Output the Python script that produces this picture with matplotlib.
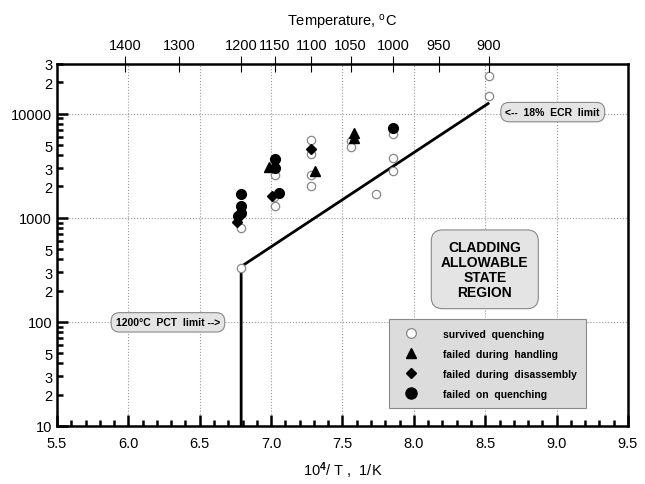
import numpy as np
import matplotlib
matplotlib.use("Agg")
import matplotlib.pyplot as plt
from matplotlib.lines import Line2D
from matplotlib.ticker import FixedLocator, MultipleLocator

plt.rcParams['font.family'] = ['Liberation Sans', 'DejaVu Sans']
plt.rcParams['mathtext.fontset'] = 'custom'
plt.rcParams['mathtext.rm'] = 'Liberation Sans'
plt.rcParams['mathtext.it'] = 'Liberation Sans:italic'
plt.rcParams['mathtext.bf'] = 'Liberation Sans:bold'

# data (x = 10^4/T, y = time)
survived_x = [6.786, 6.79, 7.027, 7.02, 7.027, 7.279, 7.279, 7.279, 7.279,
              7.557, 7.557, 7.851, 7.851, 7.851, 7.732, 8.525, 8.525]
survived_y = [804, 330, 2550, 1580, 1295, 5560, 4140, 2590, 2010,
              5520, 4810, 6400, 3770, 2840, 1675, 22860, 14700]

handling_x = [6.985, 7.307, 7.58, 7.58]
handling_y = [3090, 2800, 6550, 5860]

disassembly_x = [6.758, 7.003, 7.279]
disassembly_y = [910, 1615, 4530]

quench_x = [6.786, 6.786, 6.79, 6.77, 7.027, 7.027, 7.055, 7.851]
quench_y = [1675, 1295, 1100, 1040, 3630, 2980, 1740, 7310]

limit_x = [6.79, 6.79, 8.52]
limit_y = [10, 340, 12500]

temps_c = [1400, 1300, 1200, 1150, 1100, 1050, 1000, 950, 900]

fig = plt.figure(figsize=(6.45, 4.85), dpi=100)
ax = fig.add_axes([0.0884, 0.1196, 0.8852, 0.7464])

ax.set_yscale('log')
ax.set_xlim(5.5, 9.5)
ax.set_ylim(10, 30000)

ax.grid(True, which='major', linestyle=':', color='#999999', linewidth=0.8)
ax.set_axisbelow(True)

ax.plot(limit_x, limit_y, color='black', linewidth=2, zorder=3)

ax.plot(survived_x, survived_y, 'o', ms=6, mfc='white', mec='#888888', mew=0.9, zorder=4)
ax.plot(handling_x, handling_y, '^', ms=6.5, color='black', zorder=5)
ax.plot(disassembly_x, disassembly_y, 'D', ms=5.5, color='black', zorder=5)
ax.plot(quench_x, quench_y, 'o', ms=7, color='black', zorder=5)

# ticks
ax.xaxis.set_major_locator(MultipleLocator(0.5))
ax.xaxis.set_minor_locator(MultipleLocator(0.1))
ax.set_xticklabels([f'{v:.1f}' for v in ax.get_xticks()])
ax.yaxis.set_major_locator(FixedLocator([10, 100, 1000, 10000]))
ax.set_yticklabels(['10', '100', '1000', '10000'])
minor_y = [m * 10 ** d for d in range(1, 5) for m in range(2, 10) if m * 10 ** d < 30001]
ax.yaxis.set_minor_locator(FixedLocator(minor_y))
ax.yaxis.set_minor_formatter(plt.FuncFormatter(
    lambda v, p: str(int(round(v / 10 ** np.floor(np.log10(v) + 1e-9)))) if
    round(v / 10 ** np.floor(np.log10(v) + 1e-9)) in (2, 3, 5) else ''))
ax.tick_params(which='both', direction='in', top=False, right=False, labelsize=10.5)
ax.tick_params(which='major', length=8, width=1.8)
ax.tick_params(which='minor', length=4, width=1.8)
ax.tick_params(axis='x', pad=7)
for s in ax.spines.values():
    s.set_linewidth(1.8)

# top temperature axis
top = ax.twiny()
top.set_xlim(ax.get_xlim())
top.set_xticks([1e4 / (t + 273.15) for t in temps_c])
top.set_xticklabels([str(t) for t in temps_c])
top.tick_params(direction='inout', length=11, width=0.8, labelsize=10.5, pad=3)
top.set_xlabel('Temperature, $^{\\rm o}$C', fontsize=10.5, labelpad=9)
for s in top.spines.values():
    s.set_visible(False)

ax.set_xlabel('10$^{\\bf 4}$/ T ,  1/K', fontsize=10.5, labelpad=7)

box = dict(boxstyle='round,pad=0.45,rounding_size=0.8', fc='#e4e4e4', ec='#888888', lw=0.8)
ax.text(8.973, 10350, '<--  18%  ECR  limit', fontsize=7.5, fontweight='bold',
        ha='center', va='center', bbox=box, zorder=6)
ax.text(6.277, 99, '1200°C  PCT  limit -->', fontsize=7.5, fontweight='bold',
        ha='center', va='center', bbox=box, zorder=6)
ax.text(8.497, 320, 'CLADDING\nALLOWABLE\nSTATE\nREGION', fontsize=10, fontweight='bold',
        ha='center', va='center', linespacing=1.1,
        bbox=dict(boxstyle='round,pad=0.7,rounding_size=0.8', fc='#e4e4e4', ec='#888888', lw=0.8),
        zorder=6)

handles = [
    Line2D([], [], marker='o', ls='', ms=7, mfc='white', mec='#888888', mew=0.9),
    Line2D([], [], marker='^', ls='', ms=6.5, color='black'),
    Line2D([], [], marker='D', ls='', ms=5.5, color='black'),
    Line2D([], [], marker='o', ls='', ms=8, color='black'),
]
labels = ['survived  quenching', 'failed  during  handling',
          'failed  during  disassembly', 'failed  on  quenching']
leg = ax.legend(handles, labels, loc='lower left', bbox_to_anchor=(0.581, 0.05),
                prop={'weight': 'bold', 'size': 7.5}, fancybox=False,
                facecolor='#dcdcdc', edgecolor='#888888', framealpha=1,
                handletextpad=1.8, borderpad=0.9, labelspacing=0.95,
                handlelength=2.5, borderaxespad=0)
leg.get_frame().set_linewidth(0.8)

fig.savefig('out.png', dpi=100)
